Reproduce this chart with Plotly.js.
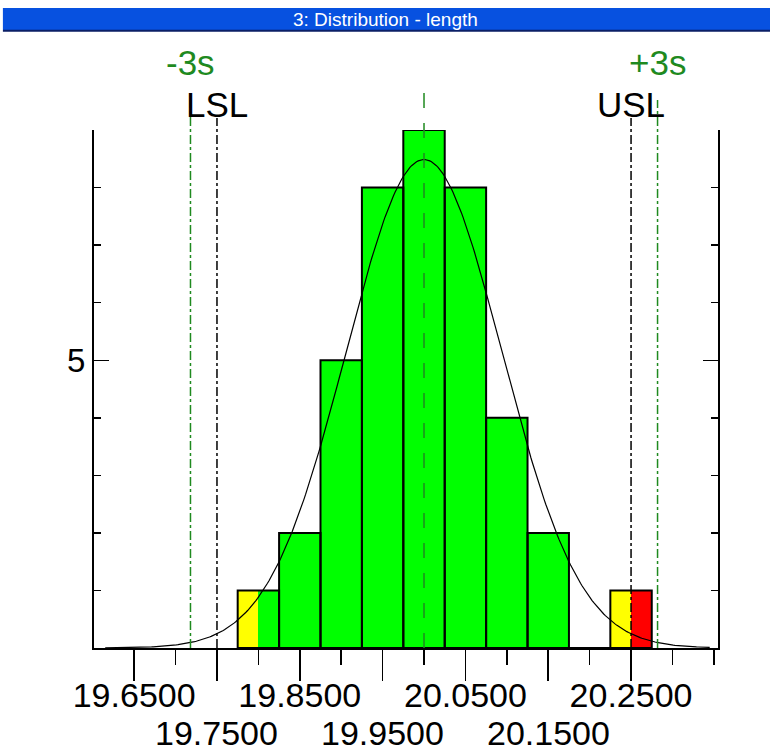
<!DOCTYPE html>
<html>
<head>
<meta charset="utf-8">
<script src="https://cdn.plot.ly/plotly-3.0.1.min.js"></script>
<style>html,body{margin:0;padding:0;background:#fff;}#chart{width:770px;height:755px;}</style>
</head>
<body>
<div id="chart"></div>
<script>
// ---- data ----
const binCenters = [19.80, 19.85, 19.90, 19.95, 20.00, 20.05, 20.10, 20.15, 20.20, 20.25];
const counts     = [1, 2, 5, 8, 9, 8, 4, 2, 0, 1];
const binWidth = 0.05;
const LSL = 19.75;
const USL = 20.25;
const warnBand = 0.05;          // yellow zone inside the spec limits
const mean = 20.0;
const sigma = 0.094;
const majorTicksTop = [19.65, 19.85, 20.05, 20.25];
const majorTicksBottom = [19.75, 19.95, 20.15];
const title = '3: Distribution - length';

const FONT = '"Liberation Sans", Arial, sans-serif';
const NARROW = '"Liberation Sans Narrow", "Arial Narrow", "Liberation Sans", Arial, sans-serif';
const GREEN_LINE = '#1f8a1f';

// coloured segments of each bin (green / yellow warning zone / red out of spec)
const segX = [], segW = [], segY = [], segC = [];
const cuts = [LSL, LSL + warnBand, USL - warnBand, USL];
binCenters.forEach((c, i) => {
  if (!counts[i]) return;
  const lo = c - binWidth / 2, hi = c + binWidth / 2;
  const pts = [lo];
  cuts.forEach(k => { if (k > lo + 1e-9 && k < hi - 1e-9) pts.push(k); });
  pts.push(hi);
  for (let j = 0; j < pts.length - 1; j++) {
    const a = pts[j], b = pts[j + 1], m = (a + b) / 2;
    let col = '#00ff00';
    if (m < LSL || m > USL) col = '#ff0000';
    else if (m < LSL + warnBand || m > USL - warnBand) col = '#ffff00';
    segX.push(m); segW.push(b - a); segY.push(counts[i]); segC.push(col);
  }
});

// fitted normal curve scaled to the histogram
const n = counts.reduce((a, b) => a + b, 0);
const curveX = [], curveY = [];
for (let x = 19.615; x <= 20.3451; x += 0.002) {
  curveX.push(x);
  curveY.push(n * binWidth * Math.exp(-0.5 * Math.pow((x - mean) / sigma, 2)) / (sigma * Math.sqrt(2 * Math.PI)));
}

const traces = [
  {type: 'bar', x: segX, y: segY, width: segW, marker: {color: segC, line: {width: 0}}, hoverinfo: 'skip'},
  {type: 'bar', x: binCenters, y: counts, width: binWidth,
   marker: {color: 'rgba(0,0,0,0)', line: {color: '#000', width: 2}}, hoverinfo: 'skip'},
  {type: 'scatter', mode: 'lines', x: curveX, y: curveY, line: {color: '#000', width: 1.2}, hoverinfo: 'skip'}
];

const xRange = [19.6015, 20.355];
const vline = (x, top, color, dash) => ({type: 'line', xref: 'x', yref: 'paper', x0: x, x1: x, y0: 0, y1: top,
  line: {color: color, width: 1.5, dash: dash}});

const bottomLabels = majorTicksBottom.map(v => ({
  xref: 'x', yref: 'paper', x: v, y: (648 - 733) / 518, text: v.toFixed(4), showarrow: false,
  xanchor: 'center', yanchor: 'middle', font: {family: FONT, size: 34, color: '#000'}
}));

const layout = {
  width: 770, height: 755,
  margin: {l: 94, r: 52, t: 130, b: 107, pad: 0},
  paper_bgcolor: '#fff', plot_bgcolor: '#fff',
  showlegend: false, barmode: 'overlay', bargap: 0,
  font: {family: FONT, color: '#000'},
  xaxis: {
    range: xRange, showgrid: false, zeroline: false,
    showline: true, linecolor: '#000', linewidth: 2,
    tickvals: majorTicksTop.concat(majorTicksBottom),
    ticktext: majorTicksTop.map(v => v.toFixed(4)).concat(majorTicksBottom.map(() => '')),
    ticks: 'outside', ticklen: 31, tickwidth: 1.5, tickcolor: '#000',
    ticklabelstandoff: -15,
    minor: {dtick: 0.05, tick0: 19.65, ticks: 'outside', ticklen: 15, tickwidth: 1.5, tickcolor: '#000', showgrid: false},
    tickfont: {family: FONT, size: 34, color: '#000'}
  },
  yaxis: {
    range: [0, 9.001], showgrid: false, zeroline: false,
    showline: true, linecolor: '#000', linewidth: 2, mirror: 'ticks',
    tickvals: [5], ticktext: ['5'], ticks: 'inside', ticklen: 15, tickwidth: 1.5, tickcolor: '#000',
    minor: {dtick: 1, tick0: 0, ticks: 'inside', ticklen: 7, tickwidth: 1.5, tickcolor: '#000', showgrid: false},
    tickfont: {family: FONT, size: 33, color: '#000'}
  },
  shapes: [
    {type: 'rect', xref: 'paper', yref: 'paper', x0: -0.146, x1: 1.09, y0: 1.1931, y1: 1.2355,
     fillcolor: '#0751e0', line: {width: 0}, layer: 'below'},
    {type: 'line', xref: 'paper', yref: 'paper', x0: -0.146, x1: 1.09, y0: 1.1915, y1: 1.1915,
     line: {color: '#0b1f66', width: 2}},
    vline(mean, 1.0965, GREEN_LINE, 'longdash'),
    vline(mean - 3 * sigma, 1.058, GREEN_LINE, 'dashdot'),
    vline(mean + 3 * sigma, 1.058, GREEN_LINE, 'dashdot'),
    vline(LSL, 1.023, '#000', 'dashdot'),
    vline(USL, 1.023, '#000', 'dashdot')
  ],
  annotations: [
    {xref: 'paper', yref: 'paper', x: (385 - 94) / 624, y: (648 - 19) / 518, text: title, showarrow: false,
     xanchor: 'center', yanchor: 'middle', font: {family: NARROW, size: 19, color: '#fff'}},
    {xref: 'x', yref: 'paper', x: mean - 3 * sigma, y: (648 - 62) / 518, text: '-3s', showarrow: false,
     xanchor: 'center', yanchor: 'middle', font: {family: FONT, size: 35, color: GREEN_LINE}},
    {xref: 'x', yref: 'paper', x: mean + 3 * sigma, y: (648 - 62) / 518, text: '+3s', showarrow: false,
     xanchor: 'center', yanchor: 'middle', font: {family: FONT, size: 35, color: GREEN_LINE}},
    {xref: 'x', yref: 'paper', x: LSL, y: (648 - 104) / 518, text: 'LSL', showarrow: false,
     xanchor: 'center', yanchor: 'middle', font: {family: FONT, size: 35, color: '#000'}},
    {xref: 'x', yref: 'paper', x: USL, y: (648 - 104) / 518, text: 'USL', showarrow: false,
     xanchor: 'center', yanchor: 'middle', font: {family: FONT, size: 35, color: '#000'}}
  ].concat(bottomLabels)
};

Plotly.newPlot('chart', traces, layout, {staticPlot: true, displayModeBar: false});
</script>
</body>
</html>
